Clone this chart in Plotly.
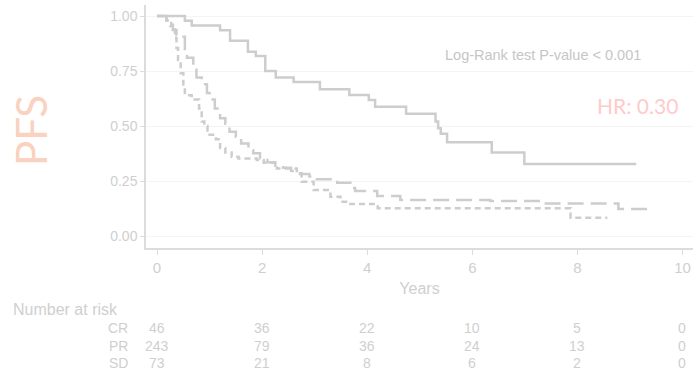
import plotly.graph_objects as go

# ---- data ----
cr_t = [0, 0.53, 0.66, 1.2, 1.39, 1.73, 1.88, 2.06, 2.26, 2.6, 3.1, 3.66, 4.03, 4.15, 4.74, 5.3, 5.35, 5.4, 5.52, 6.37, 6.99, 9.12]
cr_s = [1.0, 0.978, 0.957, 0.935, 0.888, 0.838, 0.818, 0.75, 0.721, 0.70, 0.667, 0.641, 0.618, 0.588, 0.556, 0.52, 0.49, 0.465, 0.426, 0.38, 0.327, 0.327]

pr_t = [0, 0.18, 0.25, 0.3, 0.37, 0.47, 0.53, 0.57, 0.69, 0.75, 0.85, 0.95, 1.0, 1.1, 1.2, 1.3, 1.38, 1.5, 1.6, 1.74, 1.83, 1.96, 2.1, 2.25, 2.4, 2.55, 2.72, 2.9, 3.04, 3.43, 3.68, 3.77, 4.19, 4.63, 6.34, 7.3, 8.78, 9.45]
pr_s = [1.0, 0.98, 0.955, 0.936, 0.914, 0.906, 0.85, 0.81, 0.77, 0.72, 0.69, 0.65, 0.62, 0.58, 0.535, 0.51, 0.474, 0.45, 0.42, 0.39, 0.376, 0.353, 0.335, 0.32, 0.31, 0.295, 0.282, 0.27, 0.258, 0.242, 0.218, 0.205, 0.182, 0.164, 0.159, 0.148, 0.123, 0.123]

sd_t = [0, 0.18, 0.27, 0.34, 0.37, 0.4, 0.45, 0.5, 0.53, 0.66, 0.8, 0.85, 0.9, 0.96, 1.0, 1.12, 1.2, 1.3, 1.42, 1.55, 1.9, 2.03, 2.28, 2.66, 2.75, 2.98, 3.3, 3.49, 3.68, 4.2, 7.87, 8.57]
sd_s = [1.0, 0.98, 0.96, 0.9, 0.855, 0.8, 0.74, 0.68, 0.64, 0.62, 0.58, 0.52, 0.50, 0.48, 0.46, 0.44, 0.40, 0.38, 0.36, 0.352, 0.345, 0.333, 0.307, 0.285, 0.247, 0.209, 0.179, 0.156, 0.145, 0.126, 0.083, 0.083]

risk_times = [0, 2, 4, 6, 8, 10]
risk_groups = ["CR", "PR", "SD"]
risk_cr = [46, 36, 22, 10, 5, 0]
risk_pr = [243, 79, 36, 24, 13, 0]
risk_sd = [73, 21, 8, 6, 2, 0]

x_ticks = [0, 2, 4, 6, 8, 10]
y_ticks = [0, 0.25, 0.5, 0.75, 1.0]

# ---- figure ----
LINE = "#cdcdcd"
TXT = "#cfcfcf"
FONT = "Liberation Sans, Arial, sans-serif"

fig = go.Figure()
fig.add_trace(go.Scatter(x=cr_t, y=cr_s, mode="lines", line=dict(shape="hv", color=LINE, width=2.5), name="CR"))
fig.add_trace(go.Scatter(x=pr_t, y=pr_s, mode="lines", line=dict(shape="hv", color=LINE, width=2.5, dash="16px,7px"), name="PR"))
fig.add_trace(go.Scatter(x=sd_t, y=sd_s, mode="lines", line=dict(shape="hv", color=LINE, width=2.5, dash="6px,4px"), name="SD"))

L, R, T, B = 146, 1, 5, 124
W, H = 694, 372
pw = W - L - R
ph = H - T - B

def px_x(px):
    return (px - L) / pw

def px_y(py):
    return (H - B - py) / ph

fig.update_layout(
    width=W, height=H,
    margin=dict(l=L, r=R, t=T, b=B),
    paper_bgcolor="white", plot_bgcolor="white",
    showlegend=False,
    font=dict(family=FONT, color=TXT),
    xaxis=dict(
        range=[-0.21, 10.2], tickvals=x_ticks, showgrid=False, zeroline=False,
        showline=True, linecolor="#dcdcdc", linewidth=1.5,
        ticks="outside", ticklen=5, tickcolor="#dcdcdc", tickwidth=1,
        tickfont=dict(size=15, color=TXT, family=FONT),
        title=dict(text="Years", font=dict(size=16, color=TXT, family=FONT), standoff=8),
    ),
    yaxis=dict(
        range=[-0.0545, 1.05], tickvals=y_ticks, tickformat=".2f",
        showgrid=True, gridcolor="#f4f4f4", gridwidth=1, zeroline=False,
        showline=True, linecolor="#dcdcdc", linewidth=1.5,
        ticks="outside", ticklen=4, tickcolor="#dcdcdc",
        tickfont=dict(size=14, color=TXT, family=FONT),
    ),
)

ann = []
ann.append(dict(text="PFS", xref="paper", yref="paper", x=px_x(31), y=px_y(131), textangle=-90,
                showarrow=False, font=dict(family="Lato, sans-serif", size=42, color="#f9d2c0"),
                xanchor="center", yanchor="middle"))
ann.append(dict(text="HR: 0.30", xref="x", yref="y", x=9.14, y=0.593, showarrow=False,
                font=dict(family="Lato, sans-serif", size=21, color="#ffcaca"), xanchor="center", yanchor="middle"))
ann.append(dict(text="Log-Rank test P-value < 0.001", xref="x", yref="y", x=7.35, y=0.823, showarrow=False,
                font=dict(family=FONT, size=14.5, color="#c6c6c6"), xanchor="center", yanchor="middle"))
ann.append(dict(text="Number at risk", xref="paper", yref="paper", x=px_x(11), y=px_y(309), showarrow=False,
                font=dict(family=FONT, size=16, color=TXT), xanchor="left", yanchor="middle"))
row_py = [328, 346, 363]
for g, vals, py in zip(risk_groups, [risk_cr, risk_pr, risk_sd], row_py):
    ann.append(dict(text=g, xref="paper", yref="paper", x=px_x(130), y=px_y(py), showarrow=False,
                    font=dict(family=FONT, size=14, color=TXT), xanchor="right", yanchor="middle"))
    for t, v in zip(risk_times, vals):
        ann.append(dict(text=str(v), xref="x", yref="paper", x=t, y=px_y(py), showarrow=False,
                        font=dict(family=FONT, size=14, color=TXT), xanchor="center", yanchor="middle"))
fig.update_layout(annotations=ann)

fig.write_html("out.html")
